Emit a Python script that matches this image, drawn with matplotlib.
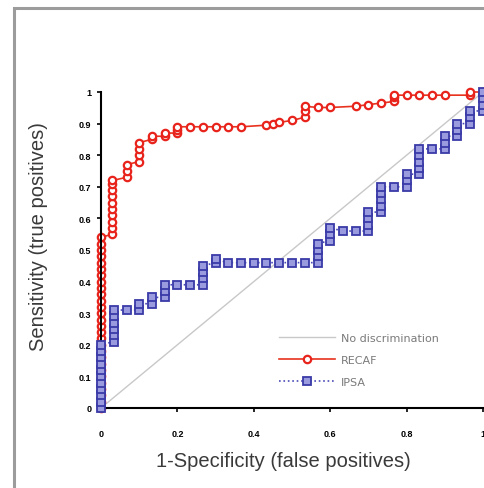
import matplotlib
matplotlib.use("Agg")
import matplotlib.pyplot as plt
from matplotlib.patches import Rectangle

# RECAF roc points
recaf_fpr = [0, 0, 0, 0, 0, 0, 0, 0, 0, 0, 0, 0, 0, 0, 0, 0, 0, 0, 0, 0, 0, 0, 0, 0, 0, 0, 0, 0,
             0.03, 0.03, 0.03, 0.03, 0.03, 0.03, 0.03, 0.03, 0.03, 0.03,
             0.067, 0.067, 0.067,
             0.1, 0.1, 0.1, 0.1,
             0.133, 0.133,
             0.167, 0.167,
             0.2, 0.2, 0.2,
             0.233, 0.267, 0.3, 0.333, 0.367,
             0.433, 0.45, 0.467, 0.5, 0.533, 0.533, 0.533, 0.567, 0.6,
             0.667, 0.7, 0.733, 0.767, 0.767, 0.767, 0.8, 0.833, 0.867, 0.9,
             0.967, 0.967, 1.0]
recaf_tpr = [0.00, 0.02, 0.04, 0.06, 0.08, 0.10, 0.12, 0.14, 0.16, 0.18, 0.20, 0.22, 0.24, 0.26,
             0.28, 0.30, 0.32, 0.34, 0.36, 0.38, 0.40, 0.42, 0.44, 0.46, 0.48, 0.50, 0.52, 0.54,
             0.55, 0.57, 0.59, 0.61, 0.63, 0.65, 0.67, 0.69, 0.71, 0.72,
             0.73, 0.75, 0.77,
             0.78, 0.80, 0.82, 0.84,
             0.85, 0.86,
             0.86, 0.87,
             0.87, 0.88, 0.89,
             0.89, 0.89, 0.89, 0.89, 0.89,
             0.895, 0.90, 0.904, 0.91, 0.92, 0.94, 0.955, 0.951, 0.951,
             0.955, 0.96, 0.965, 0.97, 0.985, 0.99, 0.99, 0.99, 0.99, 0.99,
             0.99, 1.0, 1.0]

# IPSA roc points
ipsa_fpr = [0, 0, 0, 0, 0, 0, 0, 0, 0, 0, 0,
            0.033, 0.033, 0.033, 0.033, 0.033, 0.033,
            0.067,
            0.1, 0.1,
            0.133, 0.133,
            0.167, 0.167, 0.167,
            0.2, 0.233,
            0.267, 0.267, 0.267, 0.267,
            0.3, 0.3,
            0.333, 0.367, 0.4, 0.433, 0.467, 0.5, 0.533,
            0.567, 0.567, 0.567, 0.567,
            0.6, 0.6, 0.6,
            0.633, 0.667,
            0.7, 0.7, 0.7, 0.7,
            0.733, 0.733, 0.733, 0.733, 0.733,
            0.767,
            0.8, 0.8, 0.8,
            0.833, 0.833, 0.833, 0.833, 0.833,
            0.867,
            0.9, 0.9, 0.9,
            0.933, 0.933, 0.933,
            0.967, 0.967, 0.967,
            1.0, 1.0, 1.0, 1.0]
ipsa_tpr = [0.00, 0.02, 0.04, 0.06, 0.08, 0.10, 0.12, 0.14, 0.16, 0.18, 0.20,
            0.21, 0.23, 0.25, 0.27, 0.29, 0.31,
            0.31,
            0.31, 0.33,
            0.33, 0.35,
            0.35, 0.37, 0.39,
            0.39, 0.39,
            0.39, 0.41, 0.43, 0.45,
            0.46, 0.47,
            0.46, 0.46, 0.46, 0.46, 0.46, 0.46, 0.46,
            0.46, 0.48, 0.50, 0.52,
            0.53, 0.55, 0.57,
            0.56, 0.56,
            0.56, 0.58, 0.60, 0.62,
            0.62, 0.64, 0.66, 0.68, 0.70,
            0.70,
            0.70, 0.72, 0.74,
            0.74, 0.76, 0.78, 0.80, 0.82,
            0.82,
            0.82, 0.84, 0.86,
            0.86, 0.88, 0.90,
            0.90, 0.92, 0.94,
            0.94, 0.96, 0.98, 1.0]

x_ticks = [0, 0.2, 0.4, 0.6, 0.8, 1]
x_labels = ["0", "0.2", "0.4", "0.6", "0.8", "1"]
y_ticks = [0, 0.1, 0.2, 0.3, 0.4, 0.5, 0.6, 0.7, 0.8, 0.9, 1]
y_labels = ["0", "0.1", "0.2", "0.3", "0.4", "0.5", "0.6", "0.7", "0.8", "0.9", "1"]

plt.rcParams['font.family'] = ['Liberation Sans', 'DejaVu Sans']

fig = plt.figure(figsize=(4.85, 4.89), dpi=100)
fig.patches.append(Rectangle((0.029, -0.1), 1.2, 0.9816 + 0.1, transform=fig.transFigure,
                             fill=False, ec='#9c9c9c', lw=2.2, zorder=0))

ax = fig.add_axes([101 / 485, 80 / 489, 382 / 485, 316 / 489])

ax.plot([0, 1], [0, 1], color='#c8c8c8', lw=1.0, label="No discrimination", zorder=1)
ax.plot(recaf_fpr, recaf_tpr, color='#e8321e', lw=1.2, marker='o', ms=5.3, mfc='white',
        mec='#e8231b', mew=1.6, label="RECAF", clip_on=False, zorder=2)
ax.plot(ipsa_fpr, ipsa_tpr, color='#4a4ab8', lw=1.2, ls=':', marker='s', ms=5.3, mfc='#9a9ade',
        mec='#3a3aa8', mew=1.3, label="IPSA", clip_on=False, zorder=3)

ax.set_xlim(0, 1)
ax.set_ylim(0, 1)
ax.set_xticks(x_ticks)
ax.set_xticklabels(x_labels, fontsize=6.5, fontweight='bold')
ax.set_yticks(y_ticks)
ax.set_yticklabels(y_labels, fontsize=6.5, fontweight='bold')
ax.tick_params(axis='x', length=3, width=1.2, pad=12)
ax.tick_params(axis='y', length=3, width=1.2, pad=4)

for s in ['top', 'right']:
    ax.spines[s].set_visible(False)
for s in ['left', 'bottom']:
    ax.spines[s].set_linewidth(1.5)

ax.set_xlabel("1-Specificity (false positives)", fontsize=14.5, color='#3a3a3a')
ax.set_ylabel("Sensitivity (true positives)", fontsize=14.5, color='#3a3a3a')
ax.xaxis.set_label_coords(0.478, -0.137)
ax.yaxis.set_label_coords(-0.139, 0.547)

leg = ax.legend(loc='upper left', bbox_to_anchor=(0.44, 0.27), frameon=False,
                prop={'family': 'DejaVu Sans', 'size': 8},
                handlelength=5, handletextpad=0.6, labelspacing=1.1)
for t in leg.get_texts():
    t.set_color('#7a7a7a')

plt.savefig("out.png", dpi=100)
